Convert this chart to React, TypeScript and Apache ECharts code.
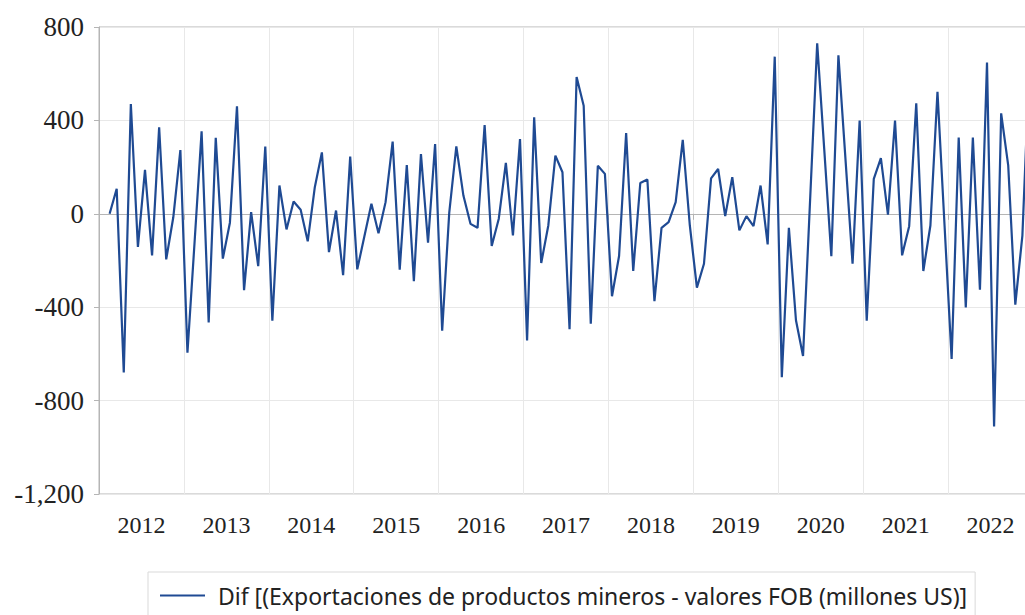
import React, { useEffect, useRef } from "react";
import * as echarts from "echarts";

const years = [2012, 2013, 2014, 2015, 2016, 2017, 2018, 2019, 2020, 2021, 2022];
const monthCodes = ["01", "02", "03", "04", "05", "06", "07", "08", "09", "10", "11", "12"];

// Monthly first differences (millones US$)
const v2012 = [null, 0, 107, -680, 470, -142, 188, -178, 370, -195, -15, 273];
const v2013 = [-595, -125, 353, -465, 325, -192, -38, 460, -327, 7, -224, 288];
const v2014 = [-458, 121, -67, 53, 17, -118, 114, 263, -164, 14, -263, 245];
const v2015 = [-238, -97, 43, -83, 50, 309, -239, 209, -289, 256, -124, 299];
const v2016 = [-501, 5, 289, 78, -43, -60, 380, -138, -21, 218, -93, 320];
const v2017 = [-542, 413, -211, -50, 249, 178, -494, 586, 463, -471, 206, 171];
const v2018 = [-353, -181, 346, -245, 132, 147, -374, -60, -36, 50, 317, -50];
const v2019 = [-316, -214, 152, 192, -10, 157, -71, -10, -53, 121, -131, 673];
const v2020 = [-700, -60, -456, -609, 60, 730, 275, -182, 679, 233, -214, 399];
const v2021 = [-458, 150, 238, -4, 399, -178, -53, 473, -245, -50, 522, -50];
const v2022 = [-622, 327, -401, 327, -325, 648, -911, 430, 206, -389, -93, 650];

const seriesName = "Dif [(Exportaciones de productos mineros - valores FOB (millones US)]";
const yMin = -1200;
const yMax = 800;
const yStep = 400;

export default function App() {
  const ref = useRef<HTMLDivElement>(null);
  useEffect(() => {
    if (!ref.current) return;
    const chart = echarts.init(ref.current, null, { renderer: "svg" });
    const categories = years.flatMap((y) => monthCodes.map((m) => `${y}-${m}`));
    const values = [v2012, v2013, v2014, v2015, v2016, v2017, v2018, v2019, v2020, v2021, v2022].flat();
    const gray = "#b5b5b5";
    const gridGray = "#e8e8e8";
    const lineColor = "#1f4a93";
    chart.setOption({
      animation: false,
      backgroundColor: "#ffffff",
      grid: {
        left: 99,
        right: 7,
        top: 27,
        bottom: 121,
        show: true,
        borderColor: gray,
        borderWidth: 1,
        containLabel: false,
      },
      legend: {
        show: true,
        left: 148,
        top: 572,
        orient: "horizontal",
        icon: "rect",
        itemWidth: 45,
        itemHeight: 2,
        borderColor: "#d9d9d9",
        borderWidth: 1,
        padding: [12, 8, 12, 12],
        textStyle: {
          fontSize: 23,
          fontFamily: "Noto Sans",
          color: "#222",
          padding: [0, 0, 0, 8],
        },
        data: [seriesName],
      },
      xAxis: {
        type: "category",
        data: categories,
        boundaryGap: true,
        axisLine: { show: true, lineStyle: { color: gray } },
        axisTick: {
          show: true,
          interval: (i: number) => i % 12 === 0,
          length: 6,
          lineStyle: { color: gray },
        },
        splitLine: {
          show: true,
          interval: (i: number) => i % 12 === 0,
          lineStyle: { color: gridGray },
        },
        axisLabel: {
          interval: (i: number) => i % 12 === 6,
          formatter: (v: string) => v.slice(0, 4),
          fontFamily: "Liberation Serif",
          fontSize: 24,
          color: "#222",
          margin: 19,
          padding: [0, 7, 0, 0],
        },
      },
      yAxis: {
        type: "value",
        min: yMin,
        max: yMax,
        interval: yStep,
        axisLine: { show: true, lineStyle: { color: gray } },
        axisTick: { show: true, length: 5, lineStyle: { color: gray } },
        splitLine: { show: true, lineStyle: { color: gridGray } },
        axisLabel: {
          formatter: (v: number) => v.toLocaleString("en-US"),
          fontFamily: "Liberation Serif",
          fontSize: 27,
          color: "#222",
          margin: 15,
        },
      },
      series: [
        {
          name: seriesName,
          type: "line",
          data: values,
          symbol: "none",
          connectNulls: false,
          lineStyle: { color: lineColor, width: 2.2 },
          itemStyle: { color: lineColor },
        },
      ],
    });
    return () => chart.dispose();
  }, []);
  return (
    <div
      style={{
        position: "fixed",
        left: 0,
        top: 0,
        width: 1025,
        height: 615,
        overflow: "hidden",
        background: "#fff",
      }}
    >
      <div ref={ref} style={{ width: 1040, height: 615 }} />
    </div>
  );
}
